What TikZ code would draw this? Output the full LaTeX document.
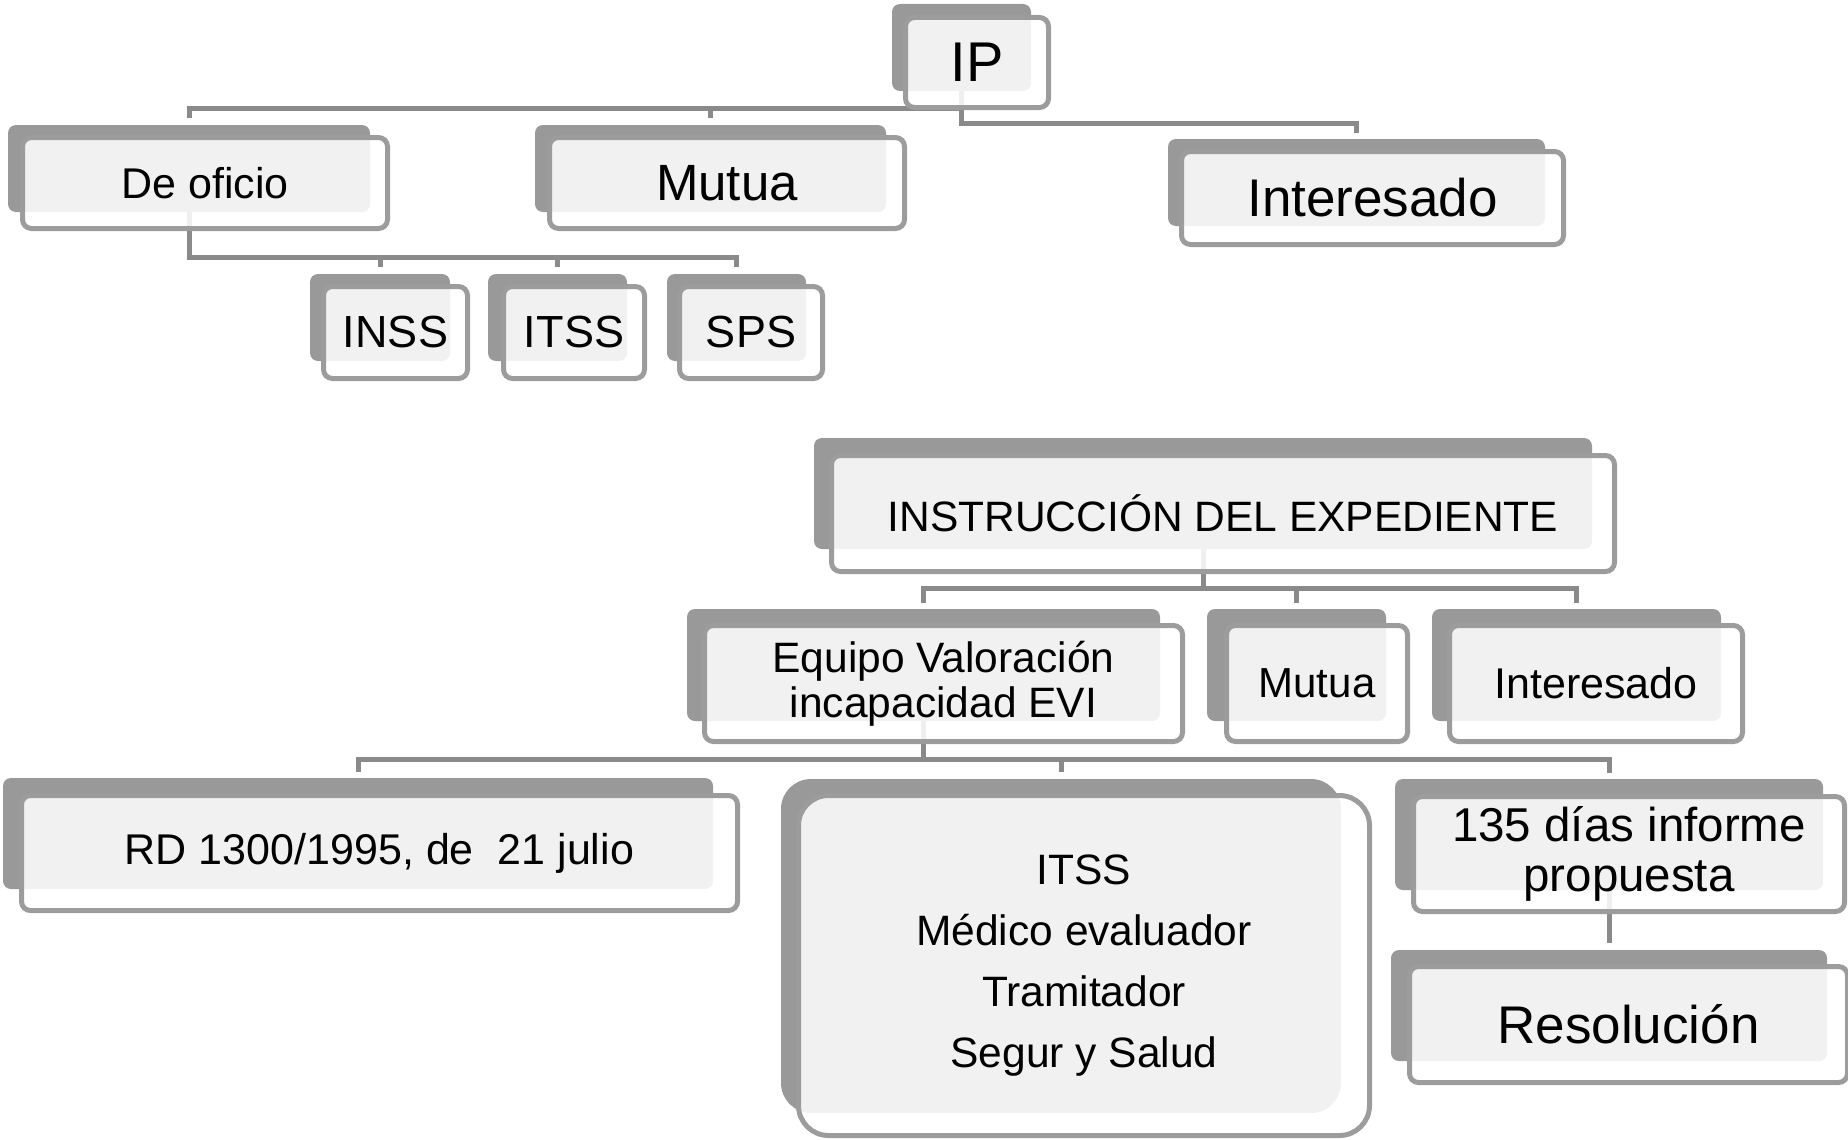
\documentclass[tikz,border=0pt]{standalone}
\usepackage{fontspec}
\setmainfont{Liberation Sans}
\usetikzlibrary{calc}
\pgfdeclarelayer{bg}
\pgfdeclarelayer{sh}
\pgfsetlayers{bg,sh,main}
\definecolor{shadowgray}{HTML}{999999}
\definecolor{linegray}{HTML}{9C9C9C}
\definecolor{conngray}{HTML}{8A8A8A}
\newcommand\fsz[2]{\fontsize{#1}{#2}\selectfont}
\tikzset{
  fr/.style n args={4}{at={({(#1+#3)/2},{(#2+#4)/2})}, minimum width={#3-#1-5}, minimum height={#4-#2-5}},
  sr/.style n args={4}{at={({(#1+#3)/2},{(#2+#4)/2})}, minimum width={#3-#1}, minimum height={#4-#2}},
  frontbox/.style={draw=linegray, line width=5pt, rounded corners=9pt, fill=white, fill opacity=0.87, text opacity=1, inner sep=0pt, align=center, text=black},
  shadowbox/.style={fill=shadowgray, rounded corners=8pt, inner sep=0pt, draw=none},
  conn/.style={draw=conngray, line width=5pt},
}
\begin{document}
\begin{tikzpicture}[x=1pt,y=-1pt]
\useasboundingbox (0,0) rectangle (1848,1140);
% shadows
\begin{pgfonlayer}{sh}
\node[shadowbox, sr={892}{4}{1031}{91}] (IPs) {};
\node[shadowbox, sr={8}{125}{370}{212}] (DOs) {};
\node[shadowbox, sr={535}{125}{886}{212}] (MUs) {};
\node[shadowbox, sr={1168}{139}{1545}{226}] (INs) {};
\node[shadowbox, sr={310}{274}{450}{361}] (NSs) {};
\node[shadowbox, sr={488}{274}{627}{361}] (TSs) {};
\node[shadowbox, sr={667}{274}{806}{361}] (SPs) {};
\node[shadowbox, sr={814}{438}{1592}{549}] (ISs) {};
\node[shadowbox, sr={687}{609}{1160}{721}] (EQs) {};
\node[shadowbox, sr={1207}{609}{1386}{721}] (M2s) {};
\node[shadowbox, sr={1432}{609}{1721}{721}] (I2s) {};
\node[shadowbox, sr={3}{778}{713}{889}] (RDs) {};
\node[shadowbox, sr={781}{779}{1341}{1113}, rounded corners=30pt] (ITs) {};
\node[shadowbox, sr={1395}{779}{1823}{890}] (P1s) {};
\node[shadowbox, sr={1391}{950}{1827}{1061}] (RSs) {};
\end{pgfonlayer}
% front boxes
\node[frontbox, fr={903}{15}{1051}{110}, font=\fsz{56}{60}] (IP) {IP};
\node[frontbox, fr={20}{135}{390}{231}, font=\fsz{43}{47}] (DO) {De oficio};
\node[frontbox, fr={547}{135}{907}{231}, font=\fsz{51}{55}] (MU) {Mutua};
\node[frontbox, fr={1179}{149}{1566}{247}, font=\fsz{53}{57}] (IN) {Interesado};
\node[frontbox, fr={321}{284}{470}{381}, font=\fsz{45}{49}] (NS) {INSS};
\node[frontbox, fr={501}{284}{647}{381}, font=\fsz{45}{49}] (TS) {ITSS};
\node[frontbox, fr={677}{284}{825}{381}, font=\fsz{45}{49}] (SP) {SPS};
\node[frontbox, fr={829}{453}{1617}{574}, font=\fsz{42.5}{46}] (IS) {INSTRUCCIÓN DEL EXPEDIENTE};
\node[frontbox, fr={702}{623}{1185}{744}, font=\fsz{42.5}{45}] (EQ) {Equipo Valoración\\incapacidad EVI};
\node[frontbox, fr={1224}{623}{1410}{744}, font=\fsz{42}{46}] (M2) {Mutua};
\node[frontbox, fr={1447}{623}{1745}{744}, font=\fsz{43}{47}] (I2) {Interesado};
\node[frontbox, fr={19}{793}{740}{913}, font=\fsz{43}{47}] (RD) {RD 1300/1995, de~~21 julio};
\node[frontbox, fr={796}{793}{1372}{1138}, rounded corners=30pt, font=\fsz{42.5}{61}] (IT) {ITSS\\Médico evaluador\\Tramitador\\Segur y Salud};
\node[frontbox, fr={1411}{794}{1847}{914}, font=\fsz{47.5}{50}] (P1) {135 días informe\\propuesta};
\node[frontbox, fr={1407}{964}{1850}{1085}, font=\fsz{53}{57}] (RS) {Resolución};
% connectors
\begin{pgfonlayer}{bg}
\draw[conn] (IPs.south) -- ++(0,17) -| ($(DOs.north)+(0,-7)$);
\draw[conn] ($(MUs.north)+(0,-7)$) -- ++(0,-10);
\draw[conn] (IPs.south) -- ++(0,32) -| ($(INs.north)+(0,-6)$);
\draw[conn] (DOs.south) -- ++(0,45) -| ($(SPs.north)+(0,-7)$);
\draw[conn] ($(NSs.north)+(0,-7)$) -- ++(0,-10);
\draw[conn] ($(TSs.north)+(0,-7)$) -- ++(0,-10);
\draw[conn] ($(EQs.north)+(0,-6)$) |- ($(ISs.south)+(0,39)$) -| ($(I2s.north)+(0,-6)$);
\draw[conn] (ISs.south) -- ++(0,39);
\draw[conn] ($(M2s.north)+(0,-6)$) -- ++(0,-15);
\draw[conn] ($(RDs.north)+(0,-6)$) |- ($(EQs.south)+(0,38)$) -| ($(P1s.north)+(0,-6)$);
\draw[conn] (EQs.south) -- ++(0,38);
\draw[conn] ($(ITs.north)+(0,-7)$) -- ++(0,-13);
\draw[conn] (P1s.south) -- ($(RSs.north)+(0,-7)$);
\end{pgfonlayer}
\end{tikzpicture}
\end{document}
